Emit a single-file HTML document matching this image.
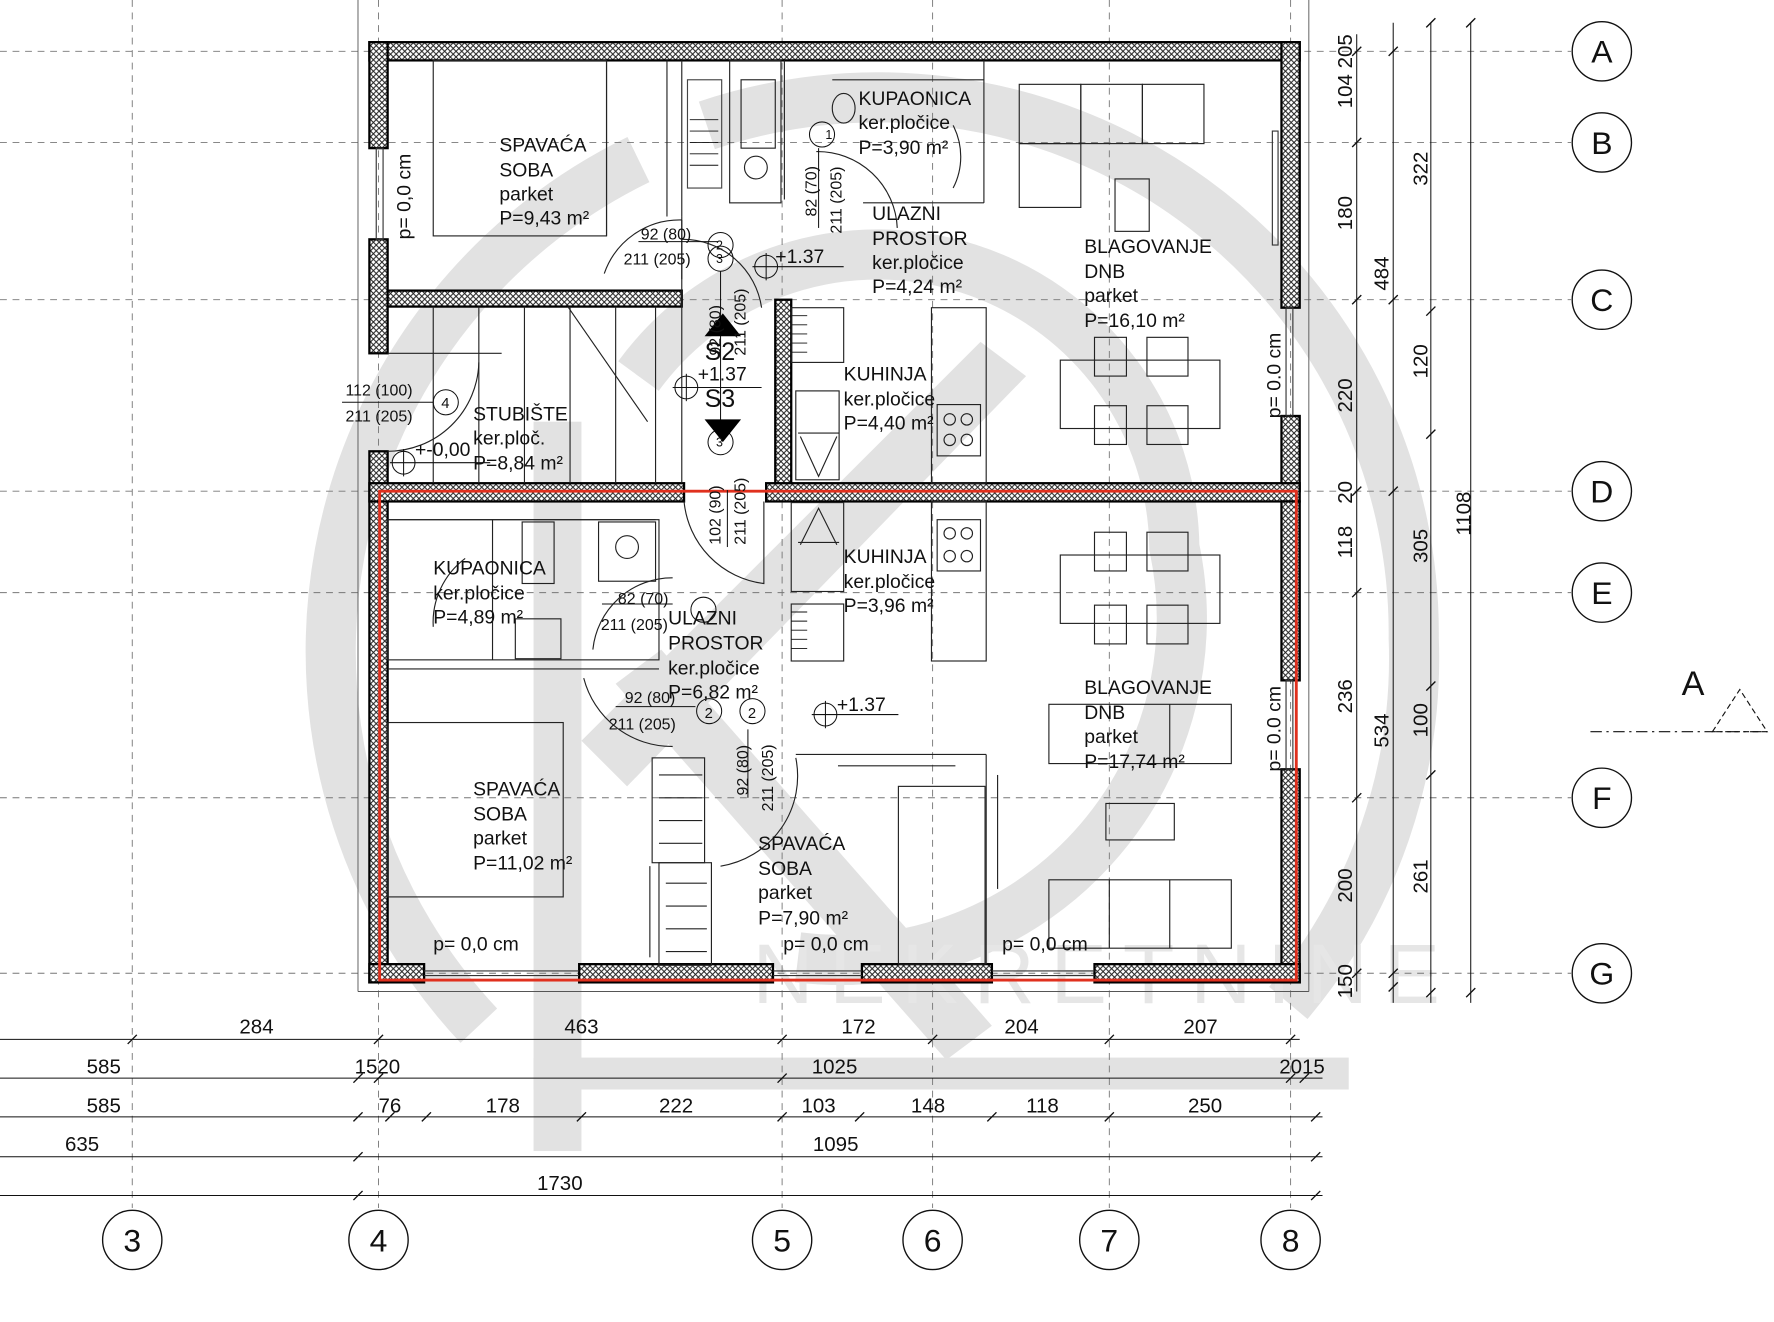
<!DOCTYPE html>
<html><head><meta charset="utf-8"><style>
html,body{margin:0;padding:0;background:#fff;}
svg{display:block;}
text{font-family:"Liberation Sans Narrow","Liberation Sans",sans-serif;fill:#111;}
.r{font-size:17px;font-family:"Liberation Sans",sans-serif;}
.d{font-size:18px;}
.s{font-size:14px;}
</style></head><body>
<svg width="1774" height="1322" viewBox="0 0 1556 1160" preserveAspectRatio="none" xmlns="http://www.w3.org/2000/svg">
<defs>
<pattern id="h" width="5" height="5" patternUnits="userSpaceOnUse">
<rect width="5" height="5" fill="#fff"/>
<path d="M0 0L5 5M5 0L0 5" stroke="#222" stroke-width="0.9"/>
</pattern>
</defs>
<rect width="1556" height="1160" fill="#fff"/>
<!-- watermark -->
<g fill="none" stroke="#e2e2e2" stroke-width="44">
<path d="M420 900 A480 480 0 0 1 560 140"/>
<path d="M620 110 A470 470 0 0 1 1240 560 A470 470 0 0 1 1130 880"/>
<path d="M560 330 A260 260 0 0 1 1030 480 A300 300 0 0 1 700 840"/>
</g>
<g fill="#e2e2e2">
<rect x="468" y="370" width="42" height="640"/>
<rect x="468" y="928" width="715" height="28"/>
<polygon points="510,650 860,300 900,330 550,690"/>
<polygon points="540,600 580,570 870,900 830,930"/>
</g>
<text x="660" y="880" font-size="74" fill="#e8e8e8" style="fill:#e6e6e6;letter-spacing:14px;font-family:'Liberation Sans',sans-serif">NEKRETNINE</text>
<!-- grid -->
<g stroke="#777" stroke-width="0.8" stroke-dasharray="6 5">
<line x1="116" y1="0" x2="116" y2="1060"/><line x1="332" y1="0" x2="332" y2="1060"/>
<line x1="686" y1="0" x2="686" y2="1060"/><line x1="818" y1="0" x2="818" y2="1060"/>
<line x1="973" y1="0" x2="973" y2="1060"/><line x1="1132" y1="0" x2="1132" y2="1060"/>
<line x1="0" y1="45" x2="1378" y2="45"/><line x1="0" y1="125" x2="1378" y2="125"/>
<line x1="0" y1="263" x2="1378" y2="263"/><line x1="0" y1="431" x2="1378" y2="431"/>
<line x1="0" y1="520" x2="1378" y2="520"/><line x1="0" y1="700" x2="1378" y2="700"/>
<line x1="0" y1="854" x2="1378" y2="854"/>
</g>
<g stroke="#555" stroke-width="0.8" fill="none">
<line x1="314" y1="0" x2="314" y2="870"/><line x1="1148" y1="0" x2="1148" y2="870"/>
<line x1="314" y1="870" x2="1148" y2="870"/>
</g>
<!-- grid circles -->
<g fill="#fff" stroke="#111" stroke-width="1.2">
<circle cx="1405" cy="45" r="26"/><circle cx="1405" cy="125" r="26"/><circle cx="1405" cy="263" r="26"/>
<circle cx="1405" cy="431" r="26"/><circle cx="1405" cy="520" r="26"/><circle cx="1405" cy="700" r="26"/>
<circle cx="1405" cy="854" r="26"/>
<circle cx="116" cy="1088" r="26"/><circle cx="332" cy="1088" r="26"/><circle cx="686" cy="1088" r="26"/>
<circle cx="818" cy="1088" r="26"/><circle cx="973" cy="1088" r="26"/><circle cx="1132" cy="1088" r="26"/>
</g>
<g font-size="28" text-anchor="middle" style="font-family:'Liberation Sans',sans-serif">
<text x="1405" y="55">A</text><text x="1405" y="135">B</text><text x="1405" y="273">C</text>
<text x="1405" y="441">D</text><text x="1405" y="530">E</text><text x="1405" y="710">F</text><text x="1405" y="864">G</text>
<text x="116" y="1098">3</text><text x="332" y="1098">4</text><text x="686" y="1098">5</text>
<text x="818" y="1098">6</text><text x="973" y="1098">7</text><text x="1132" y="1098">8</text>
</g>
<!-- walls -->
<g fill="url(#h)" stroke="#000" stroke-width="2">
<rect x="324" y="37" width="816" height="16"/>
<rect x="324" y="37" width="16" height="93"/>
<rect x="324" y="210" width="16" height="100"/>
<rect x="340" y="255" width="258" height="14"/>
<rect x="1124" y="37" width="16" height="233"/>
<rect x="1124" y="365" width="16" height="66"/>
<rect x="680" y="263" width="14" height="168"/>
<rect x="324" y="396" width="16" height="466"/>
<rect x="324" y="424" width="276" height="16"/>
<rect x="672" y="424" width="468" height="16"/>
<rect x="1124" y="440" width="16" height="157"/>
<rect x="1124" y="675" width="16" height="187"/>
<rect x="324" y="846" width="48" height="16"/>
<rect x="508" y="846" width="170" height="16"/>
<rect x="756" y="846" width="114" height="16"/>
<rect x="960" y="846" width="180" height="16"/>
</g>
<!-- windows -->
<g fill="none" stroke="#333" stroke-width="1">
<rect x="330" y="130" width="6" height="80"/><rect x="1128" y="270" width="6" height="95"/>
<rect x="1128" y="597" width="6" height="78"/>
<line x1="372" y1="852" x2="508" y2="852"/><line x1="372" y1="856" x2="508" y2="856"/>
<line x1="678" y1="852" x2="756" y2="852"/><line x1="678" y1="856" x2="756" y2="856"/>
<line x1="870" y1="852" x2="960" y2="852"/><line x1="870" y1="856" x2="960" y2="856"/>
<rect x="1116" y="115" width="5" height="100"/>
</g>
<!-- red outline -->
<rect x="333" y="431" width="804" height="429" fill="none" stroke="#e0301e" stroke-width="2.5"/>
<!-- interior lines / furniture -->
<g fill="none" stroke="#222" stroke-width="1">
<rect x="380" y="53" width="152" height="154"/>
<line x1="532" y1="53" x2="532" y2="207"/>
<line x1="585" y1="53" x2="585" y2="190"/><line x1="598" y1="53" x2="598" y2="190"/>
<line x1="598" y1="190" x2="598" y2="255"/>
<line x1="598" y1="255" x2="598" y2="424"/>
<rect x="640" y="53" width="45" height="125"/>
<rect x="650" y="70" width="30" height="60"/>
<circle cx="663" cy="147" r="10"/>
<rect x="603" y="70" width="30" height="95" stroke="#444"/>
<line x1="688" y1="53" x2="688" y2="175"/>
<line x1="730" y1="70" x2="863" y2="70"/><line x1="863" y1="53" x2="863" y2="178"/>
<line x1="757" y1="178" x2="863" y2="178"/>
<ellipse cx="740" cy="95" rx="10" ry="13"/>
<path d="M716 133 A70 70 0 0 1 787 200"/>
<path d="M836 110 A60 60 0 0 1 836 165"/>
<path d="M530 240 A70 70 0 0 1 598 193 M598 193 L598 245"/>
<path d="M598 210 A70 70 0 0 1 668 270"/>
<line x1="380" y1="269" x2="380" y2="424"/><line x1="420" y1="269" x2="420" y2="424"/>
<line x1="460" y1="269" x2="460" y2="424"/><line x1="500" y1="269" x2="500" y2="424"/>
<line x1="540" y1="269" x2="540" y2="424"/><line x1="575" y1="269" x2="575" y2="424"/>
<line x1="498" y1="269" x2="568" y2="370"/>
<line x1="340" y1="310" x2="440" y2="310"/>
<path d="M340 396 A80 80 0 0 0 420 318"/>
<rect x="694" y="270" width="46" height="48"/><rect x="698" y="343" width="38" height="78"/>
<line x1="700" y1="380" x2="736" y2="380"/><path d="M702 383 L718 418 L734 383"/>
<rect x="817" y="270" width="48" height="154"/>
<rect x="822" y="355" width="38" height="45"/>
<circle cx="833" cy="368" r="5"/><circle cx="848" cy="368" r="5"/><circle cx="833" cy="386" r="5"/><circle cx="848" cy="386" r="5"/>
<rect x="894" y="74" width="54" height="52"/><rect x="948" y="74" width="54" height="52"/><rect x="1002" y="74" width="54" height="52"/>
<rect x="894" y="126" width="54" height="56"/><rect x="978" y="157" width="30" height="46"/>
<rect x="930" y="316" width="140" height="60"/>
<rect x="960" y="296" width="28" height="34"/><rect x="1006" y="296" width="36" height="34"/>
<rect x="960" y="356" width="28" height="34"/><rect x="1006" y="356" width="36" height="34"/>
<rect x="930" y="487" width="140" height="60"/>
<rect x="960" y="467" width="28" height="34"/><rect x="1006" y="467" width="36" height="34"/>
<rect x="960" y="531" width="28" height="34"/><rect x="1006" y="531" width="36" height="34"/>
<rect x="920" y="618" width="160" height="52"/><line x1="1026" y1="618" x2="1026" y2="670"/>
<rect x="970" y="705" width="60" height="32"/>
<rect x="920" y="772" width="160" height="60"/><line x1="973" y1="772" x2="973" y2="832"/><line x1="1026" y1="772" x2="1026" y2="832"/>
<rect x="340" y="456" width="238" height="123"/><line x1="340" y1="456" x2="575" y2="456"/>
<line x1="432" y1="456" x2="432" y2="579"/>
<rect x="458" y="458" width="28" height="54"/><rect x="525" y="458" width="50" height="52"/>
<circle cx="550" cy="480" r="10"/>
<rect x="452" y="543" width="40" height="35"/>
<line x1="340" y1="587" x2="578" y2="587"/>
<path d="M408 490 A70 70 0 0 0 380 550"/>
<path d="M600 440 A80 80 0 0 0 670 512 L670 440"/>
<path d="M520 570 A70 70 0 0 1 590 507"/>
<path d="M512 595 A80 80 0 0 0 590 655"/>
<path d="M632 760 A80 80 0 0 0 698 665"/>
<rect x="340" y="634" width="154" height="153"/>
<rect x="572" y="665" width="46" height="92"/><rect x="578" y="757" width="46" height="90"/>
<line x1="578" y1="680" x2="616" y2="680"/><line x1="578" y1="700" x2="616" y2="700"/><line x1="578" y1="720" x2="616" y2="720"/><line x1="578" y1="740" x2="616" y2="740"/>
<line x1="584" y1="775" x2="620" y2="775"/><line x1="584" y1="795" x2="620" y2="795"/><line x1="584" y1="815" x2="620" y2="815"/><line x1="584" y1="835" x2="620" y2="835"/>
<line x1="570" y1="760" x2="570" y2="840"/>
<line x1="698" y1="662" x2="865" y2="662"/><line x1="865" y1="662" x2="865" y2="846"/>
<rect x="788" y="690" width="76" height="156"/><line x1="735" y1="672" x2="838" y2="672"/>
<line x1="875" y1="680" x2="875" y2="780"/>
<rect x="694" y="441" width="46" height="78"/><line x1="700" y1="476" x2="736" y2="476"/><path d="M702 478 L718 446 L734 478"/>
<rect x="694" y="530" width="46" height="50"/>
<rect x="817" y="440" width="48" height="140"/>
<rect x="822" y="456" width="38" height="45"/>
<circle cx="833" cy="468" r="5"/><circle cx="848" cy="468" r="5"/><circle cx="833" cy="488" r="5"/><circle cx="848" cy="488" r="5"/>
</g>
<g stroke="#111" stroke-width="0.8">
<line x1="694" y1="277" x2="708" y2="277"/><line x1="694" y1="285" x2="708" y2="285"/><line x1="694" y1="293" x2="708" y2="293"/><line x1="694" y1="301" x2="708" y2="301"/><line x1="694" y1="309" x2="708" y2="309"/>
<line x1="694" y1="537" x2="708" y2="537"/><line x1="694" y1="545" x2="708" y2="545"/><line x1="694" y1="553" x2="708" y2="553"/><line x1="694" y1="561" x2="708" y2="561"/><line x1="694" y1="569" x2="708" y2="569"/>
<line x1="605" y1="105" x2="630" y2="105"/><line x1="605" y1="115" x2="630" y2="115"/><line x1="605" y1="125" x2="630" y2="125"/><line x1="605" y1="135" x2="630" y2="135"/><line x1="605" y1="145" x2="630" y2="145"/>
</g>
<!-- door tags & level markers -->
<g fill="none" stroke="#111" stroke-width="0.9">
<circle cx="721" cy="118" r="11"/><circle cx="632" cy="215" r="11"/><circle cx="632" cy="227" r="11"/>
<circle cx="391" cy="353" r="11"/><circle cx="632" cy="388" r="11"/>
<circle cx="617" cy="535" r="11"/><circle cx="622" cy="624" r="11"/><circle cx="660" cy="624" r="11"/>
<circle cx="672" cy="234" r="10"/><line x1="660" y1="234" x2="740" y2="234"/><line x1="672" y1="222" x2="672" y2="246"/>
<circle cx="602" cy="340" r="10"/><line x1="590" y1="340" x2="668" y2="340"/><line x1="602" y1="328" x2="602" y2="352"/>
<circle cx="354" cy="406" r="10"/><line x1="342" y1="406" x2="430" y2="406"/><line x1="354" y1="394" x2="354" y2="418"/>
<circle cx="724" cy="627" r="10"/><line x1="712" y1="627" x2="788" y2="627"/><line x1="724" y1="615" x2="724" y2="639"/>
<line x1="560" y1="212" x2="630" y2="212"/><line x1="300" y1="353" x2="380" y2="353"/>
<line x1="528" y1="530" x2="590" y2="530"/><line x1="540" y1="620" x2="610" y2="620"/>
<line x1="718" y1="130" x2="718" y2="200"/><line x1="638" y1="430" x2="638" y2="480"/><line x1="656" y1="640" x2="656" y2="700"/>
<line x1="632" y1="238" x2="632" y2="377"/>
</g>
<polygon points="618,295 634,275 650,295" fill="#000"/>
<polygon points="618,368 650,368 634,388" fill="#000"/>
<g class="s">
<text x="724" y="122" font-size="11">1</text><text x="628" y="219" font-size="11">2</text><text x="628" y="231" font-size="11">3</text>
<text x="387" y="358" font-size="13">4</text><text x="628" y="392" font-size="11">3</text>
<text x="618" y="630" font-size="13">2</text><text x="656" y="630" font-size="13">2</text>
<text x="562" y="210">92 (80)</text><text x="547" y="232">211 (205)</text>
<text x="303" y="347">112 (100)</text><text x="303" y="370">211 (205)</text>
<text x="542" y="530">82 (70)</text><text x="527" y="553">211 (205)</text>
<text x="548" y="617">92 (80)</text><text x="534" y="640">211 (205)</text>
<text transform="translate(716 190) rotate(-90)">82 (70)</text>
<text transform="translate(738 205) rotate(-90)">211 (205)</text>
<text transform="translate(632 478) rotate(-90)">102 (90)</text>
<text transform="translate(654 478) rotate(-90)">211 (205)</text>
<text transform="translate(656 698) rotate(-90)">92 (80)</text>
<text transform="translate(678 712) rotate(-90)">211 (205)</text>
<text transform="translate(632 312) rotate(-90)">92 (80)</text>
<text transform="translate(654 312) rotate(-90)">211 (205)</text>
</g>
<g class="r">
<text x="680" y="231">+1.37</text><text x="612" y="334">+1.37</text>
<text x="364" y="400">+-0,00</text><text x="734" y="624">+1.37</text>
<text x="618" y="316" font-size="22">S2</text><text x="618" y="357" font-size="22">S3</text>
</g>
<!-- room labels -->
<g class="r">
<text x="438" y="133">SPAVAĆA</text><text x="438" y="155">SOBA</text><text x="438" y="176">parket</text><text x="438" y="197">P=9,43 m²</text>
<text x="753" y="92">KUPAONICA</text><text x="753" y="113">ker.pločice</text><text x="753" y="135">P=3,90 m²</text>
<text x="765" y="193">ULAZNI</text><text x="765" y="215">PROSTOR</text><text x="765" y="236">ker.pločice</text><text x="765" y="257">P=4,24 m²</text>
<text x="951" y="222">BLAGOVANJE</text><text x="951" y="244">DNB</text><text x="951" y="265">parket</text><text x="951" y="287">P=16,10 m²</text>
<text x="740" y="334">KUHINJA</text><text x="740" y="356">ker.pločice</text><text x="740" y="377">P=4,40 m²</text>
<text x="415" y="369">STUBIŠTE</text><text x="415" y="390">ker.ploč.</text><text x="415" y="412">P=8,84 m²</text>
<text x="380" y="504">KUPAONICA</text><text x="380" y="526">ker.pločice</text><text x="380" y="547">P=4,89 m²</text>
<text x="740" y="494">KUHINJA</text><text x="740" y="516">ker.pločice</text><text x="740" y="537">P=3,96 m²</text>
<text x="586" y="548">ULAZNI</text><text x="586" y="570">PROSTOR</text><text x="586" y="592">ker.pločice</text><text x="586" y="613">P=6,82 m²</text>
<text x="951" y="609">BLAGOVANJE</text><text x="951" y="631">DNB</text><text x="951" y="652">parket</text><text x="951" y="674">P=17,74 m²</text>
<text x="415" y="698">SPAVAĆA</text><text x="415" y="720">SOBA</text><text x="415" y="741">parket</text><text x="415" y="763">P=11,02 m²</text>
<text x="665" y="746">SPAVAĆA</text><text x="665" y="768">SOBA</text><text x="665" y="789">parket</text><text x="665" y="811">P=7,90 m²</text>
<text x="380" y="834">p= 0,0 cm</text><text x="687" y="834">p= 0,0 cm</text><text x="879" y="834">p= 0,0 cm</text>
<text transform="translate(360 210) rotate(-90)">p= 0,0 cm</text>
<text transform="translate(1123 367) rotate(-90)">p= 0.0 cm</text>
<text transform="translate(1123 677) rotate(-90)">p= 0.0 cm</text>
</g>
<!-- dimension lines bottom -->
<g stroke="#111" stroke-width="0.9">
<line x1="0" y1="912" x2="1140" y2="912"/><line x1="0" y1="946" x2="1160" y2="946"/>
<line x1="0" y1="980" x2="1160" y2="980"/><line x1="0" y1="1015" x2="1160" y2="1015"/>
<line x1="0" y1="1049" x2="1160" y2="1049"/>
<line x1="1190" y1="30" x2="1190" y2="870"/><line x1="1222" y1="20" x2="1222" y2="880"/>
<line x1="1255" y1="20" x2="1255" y2="880"/><line x1="1290" y1="20" x2="1290" y2="880"/>
</g>
<g stroke="#111" stroke-width="1.2">
<path d="M112 916l8-8M328 916l8-8M682 916l8-8M814 916l8-8M969 916l8-8M1128 916l8-8"/>
<path d="M310 950l8-8M328 950l8-8M682 950l8-8M1128 950l8-8M1140 950l8-8"/>
<path d="M310 984l8-8M338 984l8-8M370 984l8-8M506 984l8-8M682 984l8-8M750 984l8-8M866 984l8-8M969 984l8-8M1150 984l8-8"/>
<path d="M310 1019l8-8M1150 1019l8-8M310 1053l8-8M1150 1053l8-8"/>
<path d="M1186 49l8-8M1186 129l8-8M1186 267l8-8M1186 435l8-8M1186 524l8-8M1186 704l8-8M1186 858l8-8"/>
<path d="M1218 49l8-8M1218 267l8-8M1218 435l8-8M1218 858l8-8M1218 870l8-8"/>
<path d="M1251 24l8-8M1251 277l8-8M1251 385l8-8M1251 606l8-8M1251 684l8-8M1251 875l8-8"/>
<path d="M1286 24l8-8M1286 875l8-8"/>
</g>
<g class="d">
<text x="210" y="907">284</text><text x="495" y="907">463</text><text x="738" y="907">172</text>
<text x="881" y="907">204</text><text x="1038" y="907">207</text>
<text x="76" y="942">585</text><text x="311" y="942">1520</text><text x="712" y="942">1025</text><text x="1122" y="942">2015</text>
<text x="76" y="976">585</text><text x="332" y="976">76</text><text x="426" y="976">178</text><text x="578" y="976">222</text>
<text x="703" y="976">103</text><text x="799" y="976">148</text><text x="900" y="976">118</text><text x="1042" y="976">250</text>
<text x="57" y="1010">635</text><text x="713" y="1010">1095</text><text x="471" y="1044">1730</text>
<text transform="translate(1186 95) rotate(-90)">104</text>
<text transform="translate(1186 202) rotate(-90)">180</text>
<text transform="translate(1186 362) rotate(-90)">220</text>
<text transform="translate(1186 442) rotate(-90)">20</text>
<text transform="translate(1186 490) rotate(-90)">118</text>
<text transform="translate(1186 626) rotate(-90)">236</text>
<text transform="translate(1186 792) rotate(-90)">200</text>
<text transform="translate(1186 876) rotate(-90)">150</text>
<text transform="translate(1186 60) rotate(-90)">205</text>
<text transform="translate(1218 255) rotate(-90)">484</text>
<text transform="translate(1218 656) rotate(-90)">534</text>
<text transform="translate(1252 163) rotate(-90)">322</text>
<text transform="translate(1252 332) rotate(-90)">120</text>
<text transform="translate(1252 494) rotate(-90)">305</text>
<text transform="translate(1252 647) rotate(-90)">100</text>
<text transform="translate(1252 784) rotate(-90)">261</text>
<text transform="translate(1290 470) rotate(-90)">1108</text>
</g>
<!-- section marker -->
<text x="1475" y="610" font-size="30" style="font-family:'Liberation Sans',sans-serif">A</text>
<line x1="1395" y1="642" x2="1550" y2="642" stroke="#111" stroke-width="1" stroke-dasharray="10 4 2 4"/>
<polygon points="1502,642 1526,605 1550,642" fill="none" stroke="#111" stroke-width="1" stroke-dasharray="5 3"/>
</svg>
</body></html>
